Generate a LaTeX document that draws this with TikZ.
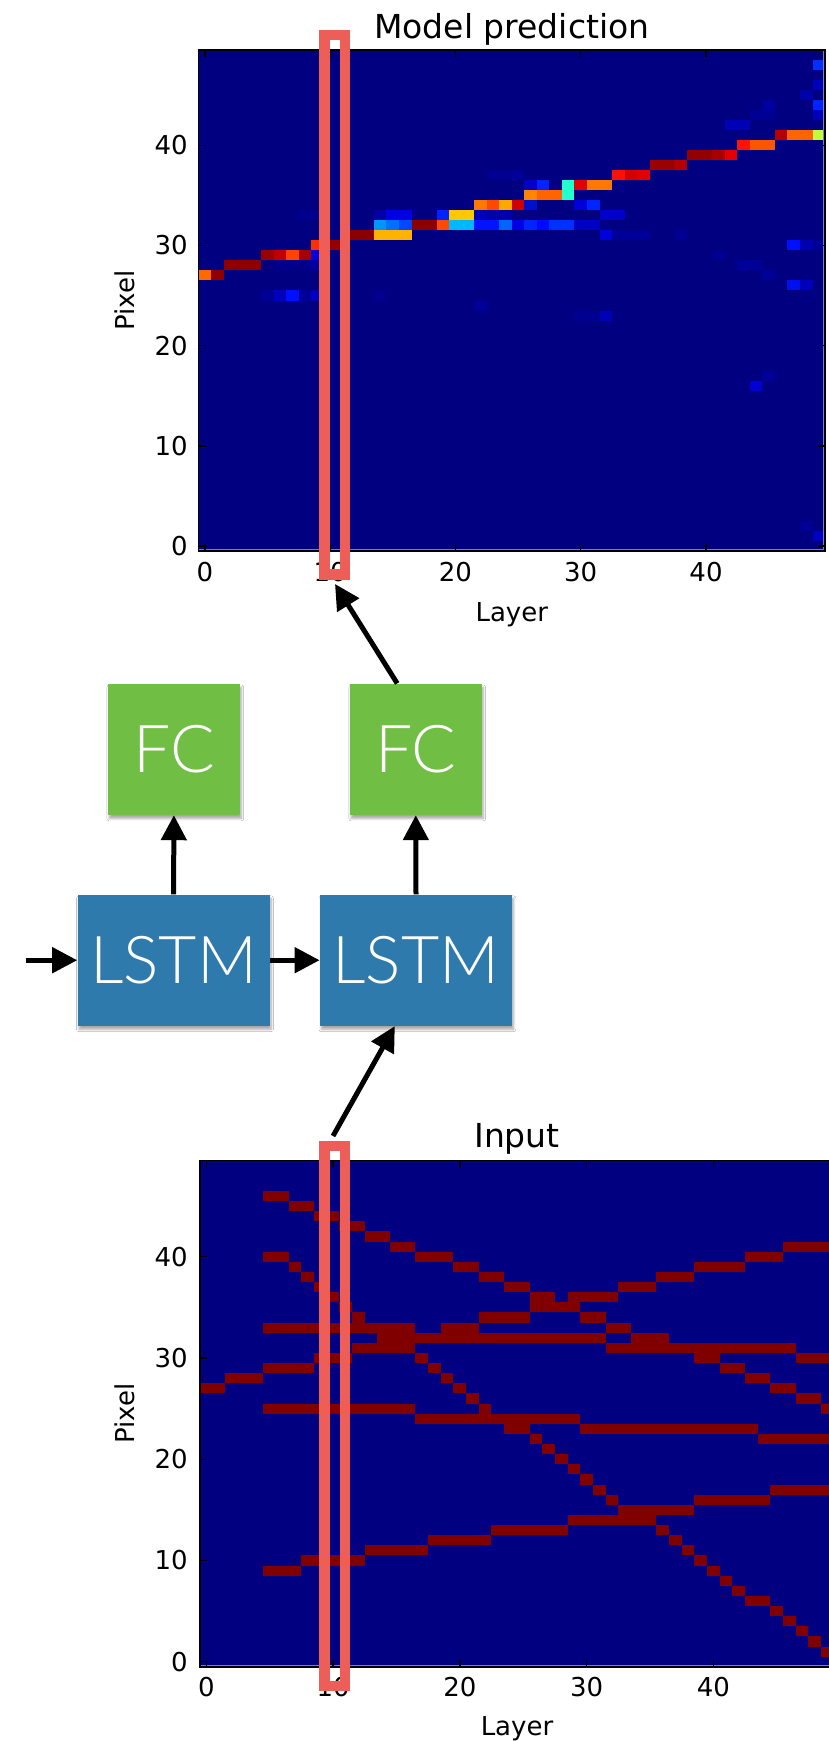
\documentclass[tikz,border=0pt]{standalone}
\usepackage{fontspec}
\setmainfont{DejaVu Sans}
\newfontfamily\plotfont{DejaVu Sans}
\newfontfamily\boxfont{Lato Light}
\usetikzlibrary{arrows.meta,calc,shadows.blur}

\definecolor{jetlow}{HTML}{000080}
\definecolor{hitred}{HTML}{800000}
\definecolor{edgetint}{HTML}{7C7CC4}
\definecolor{lstmblue}{HTML}{2E7AAC}
\definecolor{fcgreen}{HTML}{71BE45}
\definecolor{markred}{HTML}{EC5E57}

% one run of hit cells (layers #1..#2, pixel #3) in the input map
\newcommand\hits[3]{\fill[hitred] (#1-0.5,#3-0.5) rectangle (#2+0.5,#3+0.5);}
% one run of predicted cells with a colour from the jet map
\newcommand\cellc[4]{\definecolor{cellcol}{HTML}{#4}\fill[cellcol] (#1-0.5,#3-0.5) rectangle (#2+0.5,#3+0.5);}

\tikzset{
  ticklab/.style={font=\plotfont\fontsize{13}{13}\selectfont, inner sep=0pt},
  axlab/.style={font=\plotfont\fontsize{13}{13}\selectfont, inner sep=0pt},
  titlelab/.style={font=\plotfont\fontsize{16.5}{16.5}\selectfont, inner sep=0pt, anchor=base},
  tickmark/.style={line width=0.7pt, black},
  axframe/.style={line width=0.75pt, black},
  netbox/.style={inner sep=0pt, text=white, font=\boxfont\fontsize{33}{33}\selectfont,
    blur shadow={shadow xshift=0.7pt, shadow yshift=-1.8pt, shadow blur radius=1.2pt, shadow blur steps=6, shadow opacity=35}},
  fcbox/.style={netbox, fill=fcgreen, minimum width=66pt, minimum height=65.5pt},
  lstmbox/.style={netbox, fill=lstmblue, minimum width=96pt, minimum height=65.5pt},
  flow/.style={-{Triangle[length=12.5pt,width=12.5pt]}, line width=2.5pt, black},
  layermark/.style={draw=markred, line width=5.25pt},
}

\begin{document}
\begin{tikzpicture}[x=0.5pt,y=-0.5pt]
\useasboundingbox[fill=white] (0,0) rectangle (829,1741);

% ---------------- prediction heat map ----------------
\begin{scope}[shift={(204.8,546)}, xscale=12.53, yscale=-10.02]
  \fill[jetlow] (-0.5,-0.5) rectangle (49.5,49.5);
  % faint responses
  \cellc{9}{9}{29}{0000D8}
  \cellc{9}{9}{28}{0000A0}
  \cellc{6}{8}{28}{00008A}
  \cellc{5}{5}{25}{000094}
  \cellc{6}{6}{25}{0000BC}
  \cellc{7}{7}{25}{0010FF}
  \cellc{8}{8}{25}{000098}
  \cellc{9}{9}{25}{0000C0}
  \cellc{8}{9}{33}{00008E}
  \cellc{14}{14}{25}{00008C}
  \cellc{32}{32}{31}{0000D8}
  \cellc{33}{35}{31}{000098}
  \cellc{38}{38}{31}{000094}
  \cellc{32}{33}{33}{0000C8}
  \cellc{47}{47}{30}{0010FF}
  \cellc{48}{48}{30}{0000AC}
  \cellc{49}{49}{30}{000096}
  \cellc{43}{44}{28}{000098}
  \cellc{45}{45}{27}{000098}
  \cellc{47}{47}{26}{0010EC}
  \cellc{48}{48}{26}{0000B8}
  \cellc{41}{41}{29}{000090}
  \cellc{32}{32}{23}{0000B8}
  \cellc{30}{31}{23}{000090}
  \cellc{22}{22}{24}{000098}
  \cellc{49}{49}{48}{0030FF}
  \cellc{49}{49}{46}{0000B8}
  \cellc{48}{48}{45}{0000A8}
  \cellc{49}{49}{44}{0024FF}
  \cellc{45}{45}{44}{0000A0}
  \cellc{49}{49}{43}{0000B8}
  \cellc{44}{45}{43}{000092}
  \cellc{42}{43}{42}{0000B4}
  \cellc{44}{44}{16}{0000D0}
  \cellc{45}{45}{17}{000098}
  \cellc{49}{49}{1}{0000C0}
  \cellc{48}{48}{2}{000092}
  \cellc{23}{24}{37}{000090}
  \cellc{25}{25}{37}{000096}
  % predicted track
  \cellc{0}{0}{27}{FF6A00}
  \cellc{1}{1}{27}{8E0000}
  \cellc{2}{4}{28}{8C0000}
  \cellc{5}{5}{29}{990000}
  \cellc{6}{6}{29}{C00000}
  \cellc{7}{7}{29}{FF4400}
  \cellc{8}{8}{29}{A40000}
  \cellc{9}{9}{30}{FF3000}
  \cellc{10}{11}{30}{940000}
  \cellc{12}{13}{31}{8A0000}
  \cellc{14}{16}{31}{FFB200}
  \cellc{14}{14}{32}{0094FF}
  \cellc{15}{15}{32}{0070FF}
  \cellc{16}{16}{32}{0048FF}
  \cellc{17}{18}{32}{8A0000}
  \cellc{19}{19}{32}{FF4A00}
  \cellc{20}{21}{32}{00B8FF}
  \cellc{22}{23}{32}{0014FF}
  \cellc{24}{24}{32}{0064FF}
  \cellc{25}{25}{32}{0000E4}
  \cellc{26}{26}{32}{0024FF}
  \cellc{27}{27}{32}{0008FF}
  \cellc{28}{29}{32}{0030FF}
  \cellc{30}{31}{32}{0000C4}
  \cellc{14}{14}{33}{0000A4}
  \cellc{15}{16}{33}{0000E0}
  \cellc{19}{19}{33}{0024FF}
  \cellc{20}{21}{33}{FFC800}
  \cellc{22}{22}{33}{0000B8}
  \cellc{23}{24}{33}{0000A8}
  \cellc{22}{22}{34}{FF7800}
  \cellc{23}{23}{34}{FF4800}
  \cellc{24}{24}{34}{FFA800}
  \cellc{25}{25}{34}{D00000}
  \cellc{26}{26}{34}{0010C8}
  \cellc{30}{30}{34}{0000D8}
  \cellc{31}{31}{34}{0024FF}
  \cellc{26}{26}{35}{FF8400}
  \cellc{27}{28}{35}{FF6400}
  \cellc{29}{29}{35}{22FFCC}
  \cellc{29}{29}{36}{22FFCC}
  \cellc{26}{26}{36}{0000C8}
  \cellc{27}{27}{36}{0024FF}
  \cellc{30}{30}{36}{E00000}
  \cellc{31}{32}{36}{FF7800}
  \cellc{33}{33}{37}{FF1000}
  \cellc{34}{34}{37}{D40000}
  \cellc{35}{35}{37}{E00000}
  \cellc{36}{37}{38}{9C0000}
  \cellc{38}{38}{38}{B40000}
  \cellc{39}{40}{39}{940000}
  \cellc{41}{41}{39}{A80000}
  \cellc{42}{42}{39}{E40000}
  \cellc{43}{43}{40}{FF1400}
  \cellc{44}{45}{40}{FF5400}
  \cellc{46}{46}{41}{B40000}
  \cellc{47}{48}{41}{FF6400}
  \cellc{49}{49}{41}{C0FF36}
  % edge tint, ticks and frame
  \fill[edgetint] (-0.5,-0.5) rectangle (49.5,-0.3);
  \fill[edgetint] (49.34,-0.5) rectangle (49.5,49.5);
  \foreach \t in {0,10,20,30,40} {
    \draw[tickmark] (\t,-0.5) -- (\t,0.2);
    \draw[tickmark] (\t,49.5) -- (\t,48.8);
    \draw[tickmark] (-0.5,\t) -- (0.06,\t);
    \draw[tickmark] (49.5,\t) -- (48.94,\t);
  }
  \draw[axframe] (-0.5,-0.5) rectangle (49.5,49.5);
\end{scope}
\foreach \t in {0,10,20,30,40} {
  \node[ticklab, anchor=east] (predY\t) at (188,{546-10.02*\t}) {\t};
  \node[ticklab] (predX\t) at ({204.8+12.53*\t},572.5) {\t};
}
\node[titlelab] (predTitle) at (511.8,38) {Model prediction};
\node[axlab, anchor=base] (predLayer) at (511.8,621) {Layer};
\node[axlab, rotate=90] (predPixel) at (124.5,300.7) {Pixel};

% ---------------- input hit map ----------------
\begin{scope}[shift={(206.3,1661.7)}, xscale=12.675, yscale=-10.125]
  \fill[jetlow] (-0.5,-0.5) rectangle (49.5,49.5);
  % track through the marked layer
  \hits{0}{1}{27} \hits{2}{4}{28} \hits{5}{8}{29} \hits{9}{11}{30} \hits{12}{16}{31}
  % upper descending track
  \hits{5}{6}{46} \hits{7}{8}{45} \hits{9}{10}{44} \hits{11}{12}{43} \hits{13}{14}{42}
  \hits{15}{16}{41} \hits{17}{19}{40} \hits{20}{21}{39} \hits{22}{23}{38} \hits{24}{25}{37}
  \hits{26}{27}{36} \hits{26}{29}{35} \hits{30}{31}{34} \hits{32}{33}{33} \hits{34}{36}{32}
  \hits{39}{40}{30} \hits{41}{42}{29} \hits{43}{44}{28} \hits{45}{46}{27} \hits{47}{48}{26}
  \hits{49}{49}{25}
  % steep descending track
  \hits{5}{6}{40} \hits{7}{7}{39} \hits{8}{8}{38} \hits{9}{9}{37} \hits{10}{10}{36}
  \hits{11}{11}{35} \hits{12}{12}{34} \hits{17}{17}{30} \hits{18}{18}{29} \hits{19}{19}{28}
  \hits{20}{20}{27} \hits{21}{21}{26} \hits{22}{22}{25} \hits{24}{25}{23} \hits{26}{26}{22}
  \hits{27}{27}{21} \hits{28}{28}{20} \hits{29}{29}{19} \hits{30}{30}{18} \hits{31}{31}{17}
  \hits{32}{32}{16} \hits{36}{36}{13} \hits{37}{37}{12} \hits{38}{38}{11} \hits{39}{39}{10}
  \hits{40}{40}{9} \hits{41}{41}{8} \hits{42}{42}{7} \hits{43}{44}{6} \hits{45}{45}{5}
  \hits{46}{46}{4} \hits{47}{47}{3} \hits{48}{48}{2} \hits{49}{49}{1}
  % rising track
  \hits{19}{21}{33} \hits{22}{25}{34} \hits{29}{32}{36} \hits{33}{35}{37} \hits{36}{38}{38}
  \hits{39}{42}{39} \hits{43}{45}{40} \hits{46}{49}{41}
  % flat tracks
  \hits{5}{16}{33} \hits{14}{31}{32} \hits{32}{46}{31} \hits{47}{49}{30}
  \hits{5}{16}{25} \hits{17}{29}{24} \hits{30}{43}{23} \hits{44}{49}{22}
  % lower rising track
  \hits{5}{7}{9} \hits{8}{12}{10} \hits{13}{17}{11} \hits{18}{22}{12} \hits{23}{28}{13}
  \hits{29}{35}{14} \hits{33}{38}{15} \hits{39}{44}{16} \hits{45}{49}{17}
  % edge tint, ticks and frame
  \fill[edgetint] (-0.5,-0.5) rectangle (49.5,-0.3);
  \foreach \t in {0,10,20,30,40} {
    \draw[tickmark] (\t,-0.5) -- (\t,0.2);
    \draw[tickmark] (\t,49.5) -- (\t,48.8);
    \draw[tickmark] (-0.5,\t) -- (0.06,\t);
  }
  \draw[axframe] (-0.5,-0.5) rectangle (49.5,49.5);
\end{scope}
\foreach \t in {0,10,20,30,40} {
  \node[ticklab, anchor=east] (inY\t) at (188,{1661.7-10.125*\t}) {\t};
  \node[ticklab] (inX\t) at ({206.3+12.675*\t},1687) {\t};
}
\node[titlelab] (inTitle) at (517,1147) {Input};
\node[axlab, anchor=base] (inLayer) at (517,1735) {Layer};
\node[axlab, rotate=90] (inPixel) at (124.5,1413.6) {Pixel};

% ---------------- marked layer ----------------
\draw[layermark] (324.7,35.2) rectangle (345,574.6);
\draw[layermark] (324.7,1146.2) rectangle (345,1686.2);

% ---------------- network ----------------
\node[fcbox] (fc1) at (173.9,749.3) {FC};
\node[fcbox] (fc2) at (415.8,749.3) {FC};
\node[lstmbox] (lstm1) at (173.6,960.2) {LSTM};
\node[lstmbox] (lstm2) at (416,960.2) {LSTM};

\coordinate (state0) at (25.8,960.2);
\coordinate (inTail) at (333,1136);
\coordinate (predTip) at (335,584);

\draw[flow] (state0) -- (lstm1.west);
\draw[flow] (lstm1.east) -- (lstm2.west);
\draw[flow] (lstm1.north) -- (fc1.south);
\draw[flow] (lstm2.north) -- (fc2.south);
\draw[flow] (inTail) -- ($(lstm2.south west)!0.39!(lstm2.south east)$);
\draw[flow] ($(fc2.north west)!0.36!(fc2.north east)$) -- (predTip);
\end{tikzpicture}
\end{document}
